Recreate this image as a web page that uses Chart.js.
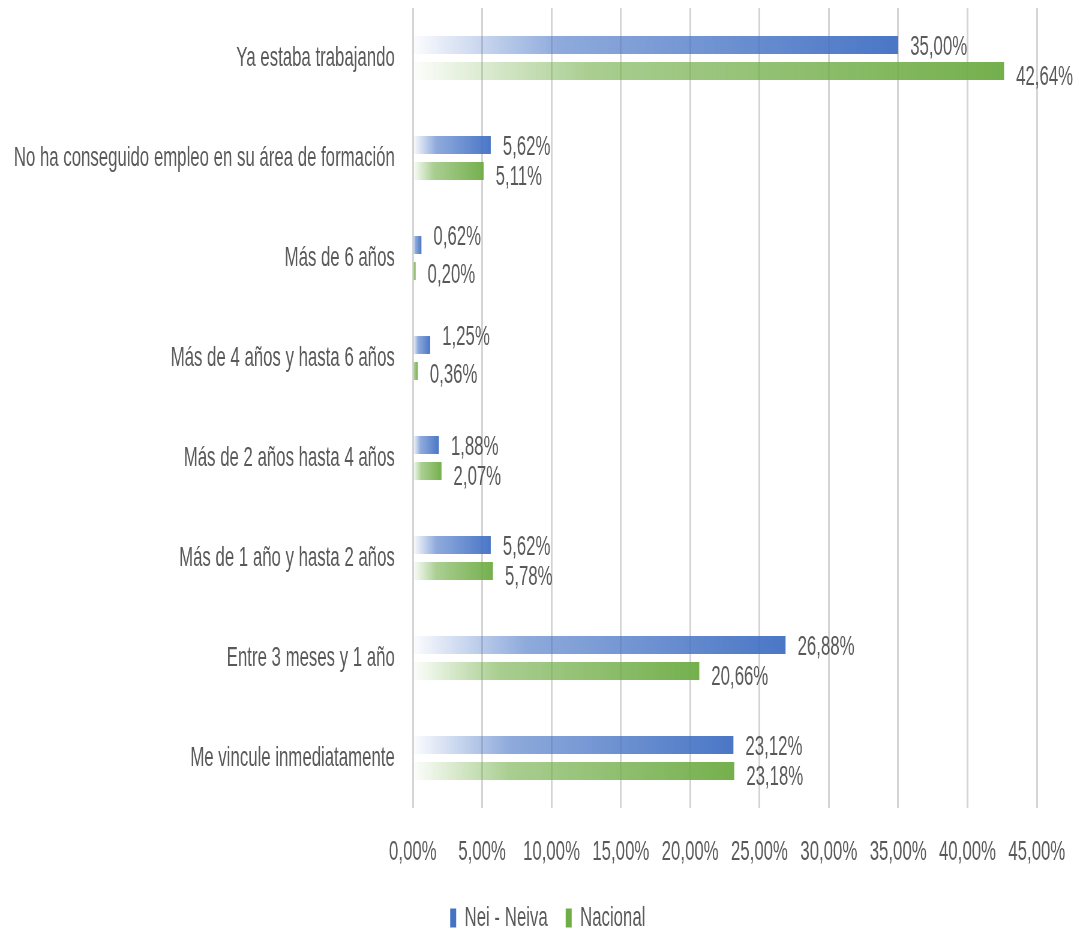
<!DOCTYPE html>
<html>
<head>
<meta charset="utf-8">
<script src="https://cdn.jsdelivr.net/npm/chart.js@4.4.1/dist/chart.umd.min.js"></script>
<style>
  html, body { margin: 0; padding: 0; background: #fff; overflow: hidden; }
  #wrap { width: 1797px; height: 933px; transform: scaleX(0.6); transform-origin: 0 0; }
</style>
</head>
<body>
<div id="wrap"><canvas id="chart" width="1797" height="933"></canvas></div>
<script>
const categories = [
  'Ya estaba trabajando',
  'No ha conseguido empleo en su área de formación',
  'Más de 6 años',
  'Más de 4 años y hasta 6 años',
  'Más de 2 años hasta 4 años',
  'Más de 1 año y hasta 2 años',
  'Entre 3 meses y 1 año',
  'Me vincule inmediatamente'
]
const neiva = [35.00, 5.62, 0.62, 1.25, 1.88, 5.62, 26.88, 23.12]
const nacional = [42.64, 5.11, 0.20, 0.36, 2.07, 5.78, 20.66, 23.18]

const FONT = '"Liberation Sans", Arial, sans-serif'
const GREY = '#595959'

const fmt = v => v.toFixed(2).replace('.', ',') + '%'

// gradient from transparent at 0 to full colour at the bar end
function gradientFill(rgb) {
  return function (context) {
    const solid = `rgb(${rgb})`
    if (context.type !== 'data') return solid
    const chart = context.chart
    const x = chart.scales.x
    if (!x || !chart.chartArea) return solid
    const x0 = x.getPixelForValue(0)
    const x1 = x.getPixelForValue(context.parsed.x)
    if (x1 - x0 < 2) return solid
    const g = chart.ctx.createLinearGradient(x0, 0, x1, 0)
    g.addColorStop(0, `rgba(${rgb},0.02)`)
    g.addColorStop(0.3, `rgba(${rgb},0.6)`)
    g.addColorStop(1, `rgba(${rgb},0.97)`)
    return g
  }
}

const valueLabels = {
  id: 'valueLabels',
  afterDatasetsDraw(chart) {
    const ctx = chart.ctx
    ctx.save()
    ctx.font = '28px ' + FONT
    ctx.fillStyle = GREY
    ctx.textAlign = 'left'
    ctx.textBaseline = 'middle'
    chart.data.datasets.forEach((ds, i) => {
      chart.getDatasetMeta(i).data.forEach((bar, j) => {
        const tiny = neiva[j] < 1.5 && nacional[j] < 1.5
        let dy = i === 0 ? 2 : 6
        if (tiny) dy = i === 0 ? -8 : 4
        ctx.fillText(fmt(ds.data[j]), bar.x + 20, bar.y + dy)
      })
    })
    ctx.restore()
  }
}

// nudge the legend and let the x labels draw below the short axis box
const adjustLayout = {
  id: 'adjustLayout',
  afterLayout(chart) {
    const lg = chart.legend
    if (lg) {
      lg.left += 49
      lg.right += 49
      lg.top += 9
      lg.bottom += 9
    }
    chart.scales.x.bottom += 30
  }
}

new Chart(document.getElementById('chart'), {
  type: 'bar',
  data: {
    labels: categories,
    datasets: [{
      label: 'Nei - Neiva',
      data: neiva,
      backgroundColor: gradientFill('68,114,196'),
      borderWidth: 0,
      categoryPercentage: 0.52,
      barPercentage: 0.69
    }, {
      label: 'Nacional',
      data: nacional,
      backgroundColor: gradientFill('112,173,71'),
      borderWidth: 0,
      categoryPercentage: 0.52,
      barPercentage: 0.69
    }]
  },
  options: {
    indexAxis: 'y',
    responsive: false,
    animation: false,
    layout: { padding: { top: 8, left: 0, right: 69, bottom: 0 } },
    plugins: {
      tooltip: { enabled: false },
      legend: {
        position: 'bottom',
        labels: {
          font: { family: FONT, size: 28 },
          color: GREY,
          boxWidth: 10,
          boxHeight: 19,
          padding: 30,
          generateLabels(chart) {
            const items = Chart.defaults.plugins.legend.labels.generateLabels(chart)
            const cols = ['#4472c4', '#70ad47']
            items.forEach((it, i) => { it.fillStyle = cols[i]; it.strokeStyle = cols[i]; it.lineWidth = 0 })
            return items
          }
        }
      }
    },
    scales: {
      x: {
        min: 0,
        max: 45,
        ticks: {
          stepSize: 5,
          color: GREY,
          font: { family: FONT, size: 28 },
          padding: 27,
          maxRotation: 0,
          autoSkip: false,
          callback: v => fmt(v)
        },
        grid: { color: '#d4d4d4', lineWidth: 3, drawTicks: false },
        border: { display: false },
        afterFit(scale) {
          scale.height = 57
          scale.paddingLeft = 0
          scale.paddingRight = 0
        }
      },
      y: {
        ticks: {
          color: GREY,
          font: { family: FONT, size: 28 },
          padding: 30
        },
        grid: { display: false, drawTicks: false },
        border: { display: false },
        afterFit(scale) {
          scale.width = 688
          scale.paddingTop = 0
          scale.paddingBottom = 0
        }
      }
    }
  },
  plugins: [valueLabels, adjustLayout]
})
</script>
</body>
</html>
